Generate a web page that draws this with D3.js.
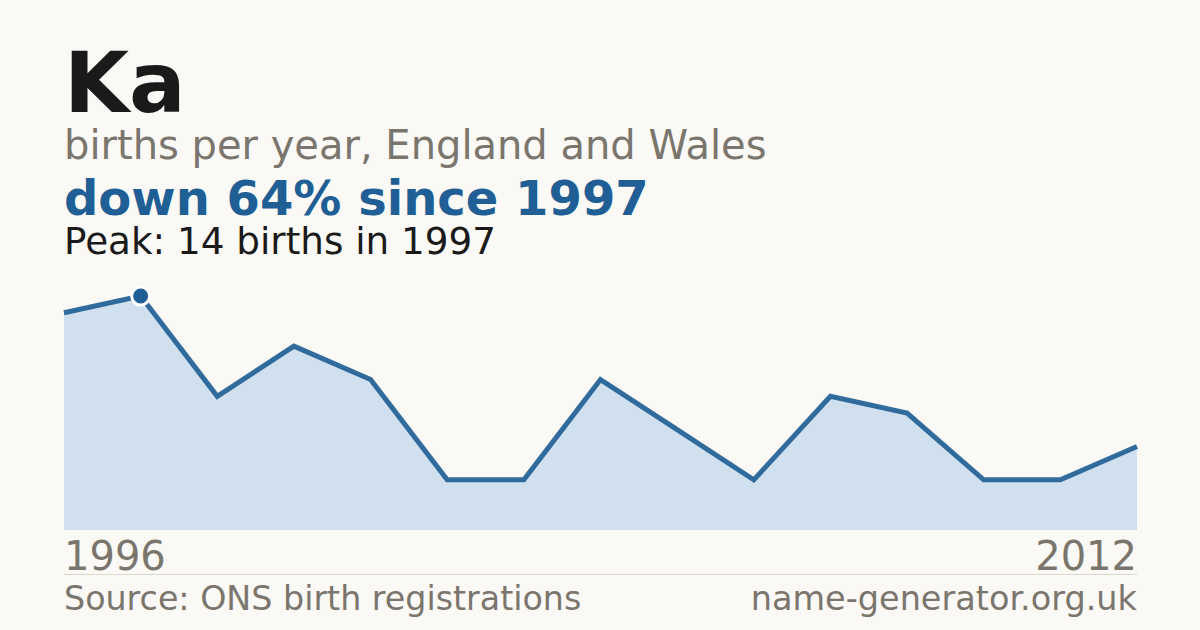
<!DOCTYPE html>
<html><head><meta charset="utf-8">
<script src="https://cdn.jsdelivr.net/npm/d3@7"></script>
<style>
html,body{margin:0;padding:0;background:#faf9f5;}
svg{display:block;font-family:"DejaVu Sans",sans-serif;}
</style></head>
<body>
<svg id="chart" width="1200" height="630"></svg>
<script>
const years = [1996,1997,1998,1999,2000,2001,2002,2003,2004,2005,2006,2007,2008,2010,2012];
const births = [13,14,8,11,9,3,3,9,6,3,8,7,3,3,5];
const titleText = "Ka";
const subtitleText = "births per year, England and Wales";
const changeText = "down 64% since 1997";
const peakText = "Peak: 14 births in 1997";
const sourceText = "Source: ONS birth registrations";
const siteText = "name-generator.org.uk";
const peakYear = 1997;

(function(){
const svg = d3.select("#chart");
const W = 1200, H = 630;
svg.append("rect").attr("width", W).attr("height", H).attr("fill", "#faf9f5");

const pl = 64, pr = 1137, pt = 296, pb = 530;
const x = d3.scaleLinear().domain([0, years.length - 1]).range([pl, pr]);
const y = d3.scaleLinear().domain([0, d3.max(births)]).range([pb, pt]);

const data = years.map((yr, i) => ({yr, v: births[i], i}));

svg.append("path").datum(data)
  .attr("fill", "#d0e0ef")
  .attr("d", d3.area().x(d => x(d.i)).y0(y(0)).y1(d => y(d.v)));

svg.append("path").datum(data)
  .attr("fill", "none")
  .attr("stroke", "#215f95")
  .attr("stroke-opacity", 0.92)
  .attr("stroke-width", 5)
  .attr("d", d3.line().x(d => x(d.i)).y(d => y(d.v)));

const pk = data.find(d => d.yr === peakYear);
svg.append("circle")
  .attr("cx", x(pk.i)).attr("cy", y(pk.v)).attr("r", 9)
  .attr("fill", "#1f5f96").attr("stroke", "#ffffff").attr("stroke-width", 3);

svg.append("text").attr("x", 64).attr("y", 112).attr("font-size", 84).attr("font-weight", "bold")
  .attr("fill", "#1a1a1a").text(titleText);
svg.append("text").attr("x", 64).attr("y", 159).attr("font-size", 40)
  .attr("fill", "#7a756d").text(subtitleText);
svg.append("text").attr("x", 64).attr("y", 215).attr("font-size", 48).attr("font-weight", "bold")
  .attr("fill", "#1f5f96").text(changeText);
svg.append("text").attr("x", 64).attr("y", 254).attr("font-size", 37.3)
  .attr("fill", "#1a1a1a").text(peakText);

svg.append("text").attr("x", pl).attr("y", 570).attr("font-size", 40)
  .attr("fill", "#7a756d").text(years[0]);
svg.append("text").attr("x", pr).attr("y", 570).attr("font-size", 40).attr("text-anchor", "end")
  .attr("fill", "#7a756d").text(years[years.length - 1]);

svg.append("line").attr("x1", pl).attr("x2", pr).attr("y1", 574.5).attr("y2", 574.5)
  .attr("stroke", "#dcd8d0").attr("stroke-width", 1);

svg.append("text").attr("x", pl).attr("y", 610).attr("font-size", 33.3)
  .attr("fill", "#7a756d").text(sourceText);
svg.append("text").attr("x", pr).attr("y", 610).attr("font-size", 33.5).attr("text-anchor", "end")
  .attr("fill", "#7a756d").text(siteText);
})();
</script>
</body></html>
